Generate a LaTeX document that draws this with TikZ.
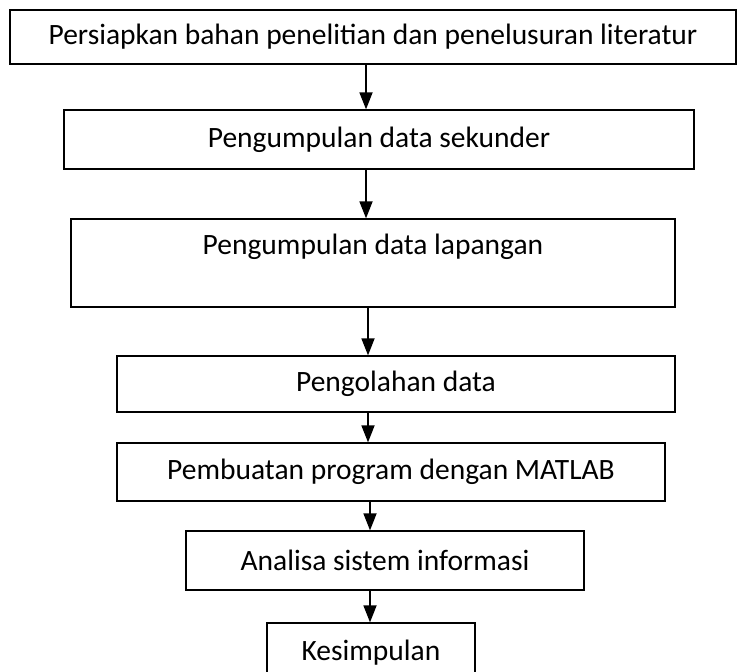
\documentclass[tikz,border=0pt]{standalone}
\usepackage{fontspec}
\setmainfont{Carlito}
\usetikzlibrary{arrows.meta}
\tikzset{
	langkah/.style={draw, line width=1.3pt, inner sep=0pt, font=\fontsize{29.5}{35}\selectfont},
	panah/.style={line width=1.8pt, -{Triangle[width=13pt,length=17pt]}}
}
\begin{document}
\begin{tikzpicture}[x=1pt, y=-1pt]
	\useasboundingbox (0,0) rectangle (737,672);
	\node[langkah, minimum width=726, minimum height=54] (b1) at (373, 37) {Persiapkan bahan penelitian dan penelusuran literatur};
	\node[langkah, minimum width=630, minimum height=59] (b2) at (379, 139.5) {Pengumpulan data sekunder};
	\node[langkah, minimum width=604, minimum height=88, align=center] (b3) at (373, 263) {Pengumpulan data lapangan\\[-8pt] \strut};
	\node[langkah, minimum width=558, minimum height=56] (b4) at (396, 384) {Pengolahan data};
	\node[langkah, minimum width=548, minimum height=58] (b5) at (391, 472) {Pembuatan program dengan MATLAB};
	\node[langkah, minimum width=398, minimum height=59] (b6) at (385, 560.5) {Analisa sistem informasi};
	\node[langkah, minimum width=208, minimum height=60] (b7) at (371, 653) {Kesimpulan};

	\coordinate (s1) at (366, 0);
	\coordinate (s2) at (368, 0);
	\coordinate (s3) at (370, 0);
	\draw[panah] (b1.south -| s1) -- (b2.north -| s1);
	\draw[panah] (b2.south -| s1) -- (b3.north -| s1);
	\draw[panah] (b3.south -| s2) -- (b4.north -| s2);
	\draw[panah] (b4.south -| s2) -- (b5.north -| s2);
	\draw[panah] (b5.south -| s3) -- (b6.north -| s3);
	\draw[panah] (b6.south -| s3) -- (b7.north -| s3);
\end{tikzpicture}
\end{document}
